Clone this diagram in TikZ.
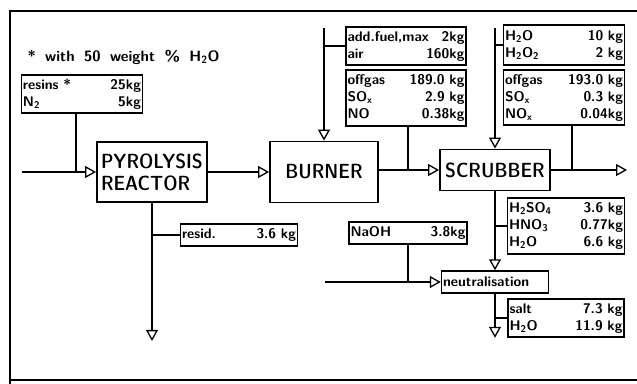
\documentclass[tikz,border=0pt]{standalone}
\usepackage{tikz}
\usetikzlibrary{arrows.meta,calc}
\newcommand{\dataline}[2]{#1\hfill #2}
\tikzset{
	unitbox/.style={draw, line width=1.9pt, inner sep=4pt, align=left,
		font=\sffamily\fontseries{sbc}\fontsize{20.5}{22}\selectfont},
	databox/.style={draw, line width=1.5pt, inner sep=1.5pt, align=left, text width=#1,
		font=\sffamily\bfseries\fontsize{14}{17}\selectfont},
	pipe/.style={line width=1.9pt},
	flow/.style={line width=1.9pt, -{Triangle[open,length=11pt,width=12pt,line width=1.3pt]}}
}

\begin{document}
\begin{tikzpicture}[x=1pt,y=-1pt]
				\useasboundingbox (0,0) rectangle (637,383);
				\clip (0,0) rectangle (637,383);
				% frame
				\draw[pipe] (10,395) -- (10,11) -- (650,11);
				\draw[pipe] (10,380) -- (650,380);
				
				\node[anchor=west, font=\sffamily\bfseries\fontsize{15}{17}\selectfont, text width=192pt, align=justify] (note) at (24,57) {*\hfill with\hfill 50\hfill weight\hfill \%\hfill H\textsubscript{2}O};
				
				% units
				\node[unitbox, text width=102pt, minimum height=60pt] (reactor) at (152,172) {PYROLYSIS\\REACTOR};
				\node[unitbox, align=center, minimum width=108pt, minimum height=61pt] (burner) at (324,172) {BURNER};
				\node[unitbox, align=center, minimum width=110pt, minimum height=41pt] (scrubber) at (495,170) {SCRUBBER};
				\node[databox=104pt, minimum height=22pt] (neutral) at (495,282) {neutralisation};
				
				% streams
				\node[databox=118pt, minimum height=38pt] (resins) at (82,94) {\dataline{resins *}{25kg}\\ \dataline{N\textsubscript{2}}{5kg}};
				\node[databox=114pt, minimum height=22pt] (resid) at (239,235) {\dataline{resid.}{3.6 kg}};
				\node[databox=117pt, minimum height=38pt] (fuel) at (406,46) {\dataline{add.fuel,max}{2kg}\\ \dataline{air}{160kg}};
				\node[databox=117pt, minimum height=56pt] (offgasA) at (406,98) {\dataline{offgas}{189.0 kg}\\ \dataline{SO\textsubscript{x}}{2.9 kg}\\ \dataline{NO}{0.38kg}};
				\node[databox=118pt, minimum height=40pt] (water) at (564,45) {\dataline{H\textsubscript{2}O}{10 kg}\\ \dataline{H\textsubscript{2}O\textsubscript{2}}{2 kg}};
				\node[databox=118pt, minimum height=55pt] (offgasB) at (564,97.5) {\dataline{offgas}{193.0 kg}\\ \dataline{SO\textsubscript{x}}{0.3 kg}\\ \dataline{NO\textsubscript{x}}{0.04kg}};
				\node[databox=114pt, minimum height=56pt] (acids) at (566,226) {\dataline{H\textsubscript{2}SO\textsubscript{4}}{3.6 kg}\\ \dataline{HNO\textsubscript{3}}{0.77kg}\\ \dataline{H\textsubscript{2}O}{6.6 kg}};
				\node[databox=115pt, minimum height=22pt] (naoh) at (408,233) {\dataline{NaOH}{3.8kg}};
				\node[databox=113pt, minimum height=38pt] (salt) at (566,318) {\dataline{salt}{7.3 kg}\\ \dataline{H\textsubscript{2}O}{11.9 kg}};
				
				\coordinate (feed) at (22,172);
				\coordinate (jresins) at (76,172);
				\coordinate (burnerin) at (324,28);
				\coordinate (scrubin) at (495,28);
				\coordinate (exhaust) at (627,170);
				\coordinate (causticin) at (325,282);
				\coordinate (residout) at ($(reactor.south)+(0,138)$);
				\coordinate (saltout) at ($(neutral.south)+(0,44)$);
				
				\draw[flow] (feed) -- (reactor.west);
				\draw[pipe] (resins.south -| jresins) -- (jresins);
				\draw[flow] (reactor.east) -- (reactor.east -| burner.west);
				\draw[flow] (reactor.south) -- (residout);
				\draw[pipe] (resid.west -| reactor.south) -- (resid.west);
				
				\draw[flow] (burnerin) -- (burner.north);
				\draw[pipe] (fuel.west -| burnerin) -- (fuel.west);
				\draw[flow] (scrubber.west -| burner.east) -- (scrubber.west);
				\draw[pipe] ($(offgasA.south)+(2,0)$) -- ($(offgasA.south |- scrubber.west)+(2,0)$);
				
				\draw[flow] (scrubin) -- (scrubber.north);
				\draw[pipe] (water.west -| scrubin) -- (water.west);
				\draw[flow] (scrubber.east) -- (scrubber.east -| exhaust);
				\draw[pipe] ($(offgasB.south)+(8,0)$) -- ($(offgasB.south |- scrubber.east)+(8,0)$);
				
				\draw[flow] (scrubber.south) -- (scrubber.south |- neutral.north);
				\draw[pipe] (acids.west -| scrubber.south) -- (acids.west);
				\draw[flow] (causticin) -- (neutral.west);
				\draw[pipe] (naoh.south) -- (naoh.south |- neutral.west);
				\draw[flow] (neutral.south) -- (saltout);
				\draw[pipe] (salt.west -| neutral.south) -- (salt.west);
\end{tikzpicture}
\end{document}
